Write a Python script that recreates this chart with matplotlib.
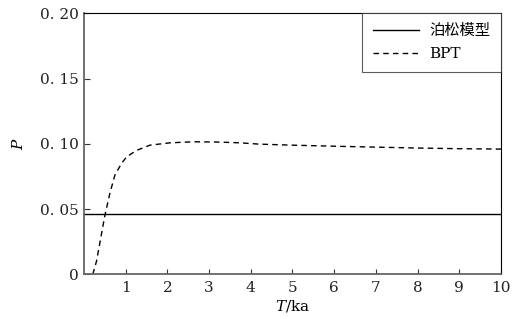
import numpy as np
import matplotlib
matplotlib.use("Agg")
import matplotlib.pyplot as plt
from matplotlib.ticker import FuncFormatter

plt.rcParams["mathtext.fontset"] = "dejavuserif"

# ---- data ----
poisson_p = 0.046

bpt_t = [0.21, 0.30, 0.38, 0.50, 0.62, 0.74, 0.90, 1.02, 1.26, 1.58, 2.06,
         2.62, 3.20, 3.74, 4.20, 5.00, 6.00, 7.00, 8.00, 9.00, 10.00]
bpt_p = [0.0, 0.010, 0.024, 0.045, 0.062, 0.076, 0.085, 0.090, 0.095, 0.099,
         0.1008, 0.1016, 0.1014, 0.1008, 0.0998, 0.0990, 0.0982, 0.0975,
         0.0968, 0.0963, 0.0960]

x_ticks = [1, 2, 3, 4, 5, 6, 7, 8, 9, 10]
y_ticks = [0, 0.05, 0.10, 0.15, 0.20]

serif = "DejaVu Serif"

fig = plt.figure(figsize=(5.14, 3.19), dpi=100)
ax = fig.add_axes([0.1634, 0.140, 0.8113, 0.818])

ax.axhline(poisson_p, color="black", linewidth=1.0, label="泊松模型")
ax.plot(bpt_t, bpt_p, color="black", linewidth=1.0, linestyle=(0, (4, 3)),
        label="BPT")

ax.set_xlim(0, 10)
ax.set_ylim(0, 0.20)
ax.set_xticks(x_ticks)
ax.set_yticks(y_ticks)


# ----------
def y_fmt(v, pos):
    if abs(v) < 1e-9:
        return "0"
    s = "%.2f" % v
    return s.replace(".", ". ")


ax.yaxis.set_major_formatter(FuncFormatter(y_fmt))
ax.tick_params(direction="in", width=0.8, colors="#333333",
               labelsize=11, labelcolor="#222222")
ax.tick_params(axis="x", length=3.5, pad=5)
ax.tick_params(axis="y", length=4.5, pad=4)
for lab in ax.get_xticklabels() + ax.get_yticklabels():
    lab.set_family(serif)

for side in ["left", "bottom"]:
    ax.spines[side].set_color("#666666")
    ax.spines[side].set_linewidth(1.3)
for side in ["top", "right"]:
    ax.spines[side].set_color("black")
    ax.spines[side].set_linewidth(0.8)

ax.set_xlabel("$T$/ka", fontsize=11, family=serif, labelpad=2)
ax.set_ylabel("$P$", fontsize=11, family=serif, labelpad=10)

leg = ax.legend(loc="upper right", fancybox=False, borderaxespad=0,
                frameon=True, handlelength=3.0, handletextpad=0.7,
                borderpad=0.7, labelspacing=0.6,
                prop={"family": ["DejaVu Serif", "Noto Sans CJK SC"],
                      "size": 11})
leg.get_frame().set_edgecolor("#333333")
leg.get_frame().set_linewidth(0.8)

fig.savefig("out.png", dpi=100)
